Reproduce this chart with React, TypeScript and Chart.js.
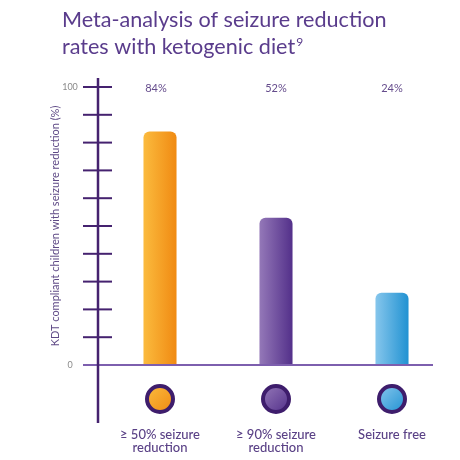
import React, { useEffect, useRef } from "react";
import { Chart, registerables } from "chart.js";

Chart.register(...registerables);

const titleLines = ["Meta-analysis of seizure reduction", "rates with ketogenic diet"];
const titleSup = "9";
const categories = [["≥ 50% seizure", "reduction"], ["≥ 90% seizure", "reduction"], ["Seizure free"]];
const values = [84, 53, 26];
const valueLabels = ["84%", "52%", "24%"];
const yTickLabels = ["0", "100"];
const yTitle = "KDT compliant children with seizure reduction (%)";
const gradLeft = ["#fbbb3e", "#9478b8", "#86c6ec"];
const gradRight = ["#f08a12", "#53308a", "#2192d2"];

const PURPLE = "#5a3c8c";
const FONT = "Lato, 'Open Sans', sans-serif";

const decor = {
  id: "decor",
  afterDraw(chart: any) {
    const { ctx, scales } = chart;
    const x = scales.x;
    const y = scales.y;
    const y0 = y.getPixelForValue(0);
    const y100 = y.getPixelForValue(100);
    const axisX = chart.chartArea.left - 4;
    ctx.save();
    // title
    ctx.fillStyle = PURPLE;
    ctx.textBaseline = "alphabetic";
    ctx.textAlign = "left";
    ctx.font = `21.6px ${FONT}`;
    ctx.fillText(titleLines[0], 62, 27);
    ctx.fillText(titleLines[1], 62, 54);
    const w = ctx.measureText(titleLines[1]).width;
    ctx.font = `12px ${FONT}`;
    ctx.fillText(titleSup, 62 + w + 1, 46);

    // baseline
    ctx.strokeStyle = "#7d5fae";
    ctx.lineWidth = 2;
    ctx.beginPath();
    ctx.moveTo(axisX - 15, y0);
    ctx.lineTo(433, y0);
    ctx.stroke();

    // y axis
    ctx.strokeStyle = "#45226f";
    ctx.lineWidth = 2.5;
    ctx.beginPath();
    ctx.moveTo(axisX, y100 - 9);
    ctx.lineTo(axisX, 423);
    ctx.stroke();
    ctx.lineWidth = 2;
    for (let v = 10; v <= 100; v += 10) {
      const py = y.getPixelForValue(v);
      ctx.beginPath();
      ctx.moveTo(axisX - 15, py);
      ctx.lineTo(axisX + 14, py);
      ctx.stroke();
    }
    // y tick labels
    ctx.fillStyle = "#8a8a8a";
    ctx.font = `9px ${FONT}`;
    ctx.textAlign = "center";
    ctx.textBaseline = "middle";
    yTickLabels.forEach((t) => {
      ctx.fillText(t, 70, y.getPixelForValue(Number(t)));
    });
    // y title
    ctx.save();
    ctx.translate(55, (y0 + y100) / 2);
    ctx.rotate(-Math.PI / 2);
    ctx.fillStyle = "#5f4a86";
    ctx.font = `11px ${FONT}`;
    ctx.fillText(yTitle, 0, 0);
    ctx.restore();

    // value labels, circles, categories
    categories.forEach((lines, i) => {
      const cx = x.getPixelForValue(i);
      ctx.fillStyle = "#654c8c";
      ctx.font = `11px ${FONT}`;
      ctx.textAlign = "center";
      ctx.textBaseline = "middle";
      ctx.fillText(valueLabels[i], cx - (i === 0 ? 4 : 0), y100 + 1);

      const cy = 399;
      const r = 13;
      const g = ctx.createLinearGradient(cx - r, cy - r, cx + r, cy + r);
      g.addColorStop(0, gradLeft[i]);
      g.addColorStop(1, gradRight[i]);
      ctx.beginPath();
      ctx.arc(cx, cy, r, 0, Math.PI * 2);
      ctx.fillStyle = g;
      ctx.fill();
      ctx.lineWidth = 4;
      ctx.strokeStyle = "#3e1d6c";
      ctx.stroke();

      ctx.fillStyle = "#5a4186";
      ctx.font = `500 13px ${FONT}`;
      ctx.textBaseline = "alphabetic";
      lines.forEach((ln, k) => {
        ctx.fillText(ln, cx, 439 + k * 13);
      });
    });
    ctx.restore();
  },
};

export default function App() {
  const ref = useRef<HTMLCanvasElement>(null);
  useEffect(() => {
    document.body.style.margin = "0";
    const canvas = ref.current!;
    const chart = new Chart(canvas, {
      type: "bar",
      data: {
        labels: categories.map((c) => c.join(" ")),
        datasets: [
          {
            data: values,
            backgroundColor: (c: any) => {
              const ch = c.chart;
              const i = c.dataIndex;
              const xs = ch.scales?.x;
              if (!xs || i === undefined || !ch.chartArea) return gradRight[i ?? 0];
              const cx = xs.getPixelForValue(i);
              if (!Number.isFinite(cx)) return gradRight[i];
              const half = 16.5;
              const g = ch.ctx.createLinearGradient(cx - half, 0, cx + half, 0);
              g.addColorStop(0, gradLeft[i]);
              g.addColorStop(1, gradRight[i]);
              return g;
            },
            borderWidth: 0,
            borderRadius: { topLeft: 6, topRight: 6, bottomLeft: 0, bottomRight: 0 },
            borderSkipped: false,
            categoryPercentage: 1,
            barPercentage: 0.285,
          },
        ],
      },
      options: {
        animation: false,
        responsive: false,
        layout: { padding: { left: 102, right: 10, top: 87, bottom: 95 } },
        plugins: { legend: { display: false }, tooltip: { enabled: false }, title: { display: false } },
        scales: {
          x: { display: false },
          y: { display: false, min: 0, max: 100 },
        },
      },
      plugins: [decor],
    });
    return () => chart.destroy();
  }, []);
  return <canvas ref={ref} width={460} height={460} style={{ display: "block" }} />;
}
